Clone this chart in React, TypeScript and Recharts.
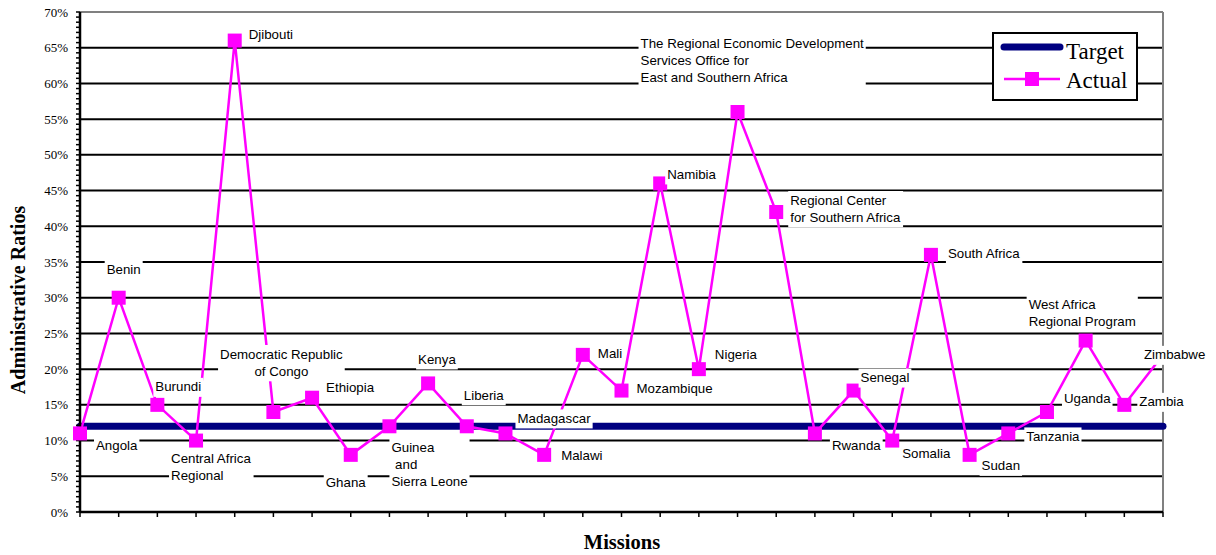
import React from 'react'
import {
  LineChart,
  Line,
  XAxis,
  YAxis,
  CartesianGrid,
  ReferenceLine,
  Legend,
  LabelList,
  Label,
} from 'recharts'

const MISSIONS = [
  'Angola',
  'Benin',
  'Burundi',
  'Central Africa\nRegional',
  'Djibouti',
  'Democratic Republic\nof Congo',
  'Ethiopia',
  'Ghana',
  'Guinea\n and\nSierra Leone',
  'Kenya',
  'Liberia',
  'Madagascar',
  'Malawi',
  'Mali',
  'Mozambique',
  'Namibia',
  'Nigeria',
  'The Regional Economic Development\nServices Office for\nEast and Southern Africa',
  'Regional Center\nfor Southern Africa',
  'Rwanda',
  'Senegal',
  'Somalia',
  'South Africa',
  'Sudan',
  'Tanzania',
  'Uganda',
  'West Africa\nRegional Program',
  'Zambia',
  'Zimbabwe',
]

// administrative ratio per mission, in percent
const ACTUAL = [11, 30, 15, 10, 66, 14, 16, 8, 12, 18, 12, 11, 8, 22, 17, 46, 20, 56, 42, 11, 17, 10, 36, 8, 11, 14, 24, 15, 22]
const TARGET = [12, 12, 12, 12, 12, 12, 12, 12, 12, 12, 12, 12, 12, 12, 12, 12, 12, 12, 12, 12, 12, 12, 12, 12, 12, 12, 12, 12, 12]

const Y_LABEL_TICKS = [0, 5, 10, 15, 20, 25, 30, 35, 40, 45, 50, 55, 60, 65, 70]
const GRID_VALUES = [5, 10, 15, 20, 25, 30, 35, 40, 45, 50, 55, 60, 65]
// minor tick marks on the value axis, 7 per major step
const MINOR_TICKS = Array.from({ length: 99 }, (_, i) => (i * 5) / 7)

// label placement: offset of text left edge / first line centre from the marker
const LABEL_LAYOUT: Array<[number, number, 'start' | 'middle']> = [
  [16, 12, 'start'],
  [-12, -28, 'start'],
  [-2, -18, 'start'],
  [-25, 18, 'start'],
  [14, -6, 'start'],
  [8, -58, 'middle'],
  [14, -10, 'start'],
  [-25, 28, 'start'],
  [2, 21, 'start'],
  [-10, -24, 'start'],
  [-3, -31, 'start'],
  [12, -15, 'start'],
  [17, 1, 'start'],
  [15, -1, 'start'],
  [15, -2, 'start'],
  [7, -9, 'start'],
  [16, -15, 'start'],
  [-97, -69, 'start'],
  [14, -12, 'start'],
  [17, 12, 'start'],
  [7, -13, 'start'],
  [10, 13, 'start'],
  [17, -1, 'start'],
  [12, 11, 'start'],
  [18, 3, 'start'],
  [17, -14, 'start'],
  [-57, -36, 'start'],
  [15, -3, 'start'],
  [-19, 0, 'start'],
]

const MAGENTA = '#FF00FF'
const NAVY = '#000080'
const LABEL_FONT = 13.3
const LINE_GAP = 17.3
const SERIF = '"Liberation Serif", "Times New Roman", serif'
const SANS = '"Liberation Sans", Arial, sans-serif'

const chartData = MISSIONS.map((mission, i) => ({
  mission,
  target: TARGET[i],
  actual: ACTUAL[i],
}))

let measureCtx: CanvasRenderingContext2D | null = null
function textWidth(s: string) {
  if (!measureCtx) measureCtx = document.createElement('canvas').getContext('2d')
  if (!measureCtx) return s.length * 7
  measureCtx.font = `${LABEL_FONT}px "Liberation Sans"`
  return measureCtx.measureText(s).width
}

function MissionLabel(props: any) {
  const name: string = props.value
  const idx = MISSIONS.indexOf(name)
  if (idx < 0) return null
  const px = props.x ?? props.viewBox?.x
  const py = props.y ?? props.viewBox?.y
  const [dx, dy, align] = LABEL_LAYOUT[idx]
  const lines = name.split('\n')
  const widths = lines.map(textWidth)
  const maxW = Math.max(...widths)
  const top = py + dy
  const anchorX = px + dx
  const left = align === 'middle' ? anchorX - maxW / 2 : anchorX
  return (
    <g>
      <rect
        x={left - 2}
        y={top - 9}
        width={maxW + 4}
        height={(lines.length - 1) * LINE_GAP + 19}
        fill="#fff"
      />
      {lines.map((ln, i) => (
        <text
          key={i}
          x={anchorX}
          y={top + i * LINE_GAP}
          textAnchor={align}
          dominantBaseline="central"
          fontFamily={SANS}
          fontSize={LABEL_FONT}
          fill="#000"
          style={{ whiteSpace: 'pre' }}
        >
          {ln}
        </text>
      ))}
    </g>
  )
}

function SquareDot(props: any) {
  const { cx, cy, index } = props
  if (cx == null || cy == null) return <g key={`d-${index}`} />
  return <rect key={`d-${index}`} x={cx - 7} y={cy - 7} width={14} height={14} fill={MAGENTA} />
}

function ValueTick(props: any) {
  const { x, y, payload } = props
  const v = payload.value
  const shown = Y_LABEL_TICKS.find((t) => Math.abs(t - v) < 1e-6)
  if (shown === undefined) return <g />
  return (
    <text x={x} y={y} textAnchor="end" dominantBaseline="central" fontFamily={SERIF} fontSize={13} fill="#000">
      {`${shown}%`}
    </text>
  )
}

function LegendBox() {
  return (
    <svg width={146} height={70}>
      <rect x={1} y={1} width={144} height={67} fill="#fff" stroke="#000" strokeWidth={2} />
      <line x1={12} y1={15} x2={68} y2={15} stroke={NAVY} strokeWidth={7} strokeLinecap="round" />
      <text x={74} y={19} dominantBaseline="central" fontFamily={SERIF} fontSize={23} fill="#000">
        Target
      </text>
      <line x1={12} y1={47} x2={68} y2={47} stroke={MAGENTA} strokeWidth={2.5} />
      <rect x={33} y={40} width={14} height={14} fill={MAGENTA} />
      <text x={74} y={48} dominantBaseline="central" fontFamily={SERIF} fontSize={23} fill="#000">
        Actual
      </text>
    </svg>
  )
}

export default function App() {
  return (
    <div style={{ position: 'absolute', left: 0, top: 0, width: 1216, height: 555, background: '#fff' }}>
      <LineChart width={1216} height={555} data={chartData} margin={{ top: 12, right: 53, bottom: 0, left: 0 }}>
        <CartesianGrid horizontal vertical={false} horizontalValues={GRID_VALUES} stroke="#000" strokeWidth={2} />
        <ReferenceLine y={70} stroke="#808080" strokeWidth={2} />
        <ReferenceLine x="Zimbabwe" stroke="#808080" strokeWidth={2} />
        <XAxis
          dataKey="mission"
          interval={0}
          height={43}
          tickSize={5}
          tick={() => <g />}
          axisLine={{ stroke: '#000', strokeWidth: 2.5 }}
          tickLine={{ stroke: '#000', strokeWidth: 1.5 }}
        >
          <Label
            content={() => (
              <text x={622} y={542} textAnchor="middle" dominantBaseline="central" fontFamily={SERIF} fontWeight="bold" fontSize={20.5} fill="#000">
                Missions
              </text>
            )}
          />
        </XAxis>
        <YAxis
          width={80}
          domain={[0, 70]}
          ticks={MINOR_TICKS}
          interval={0}
          tickSize={4}
          tickMargin={8}
          tick={<ValueTick />}
          axisLine={{ stroke: '#000', strokeWidth: 2.5 }}
          tickLine={{ stroke: '#000', strokeWidth: 1.5 }}
        >
          <Label
            content={() => (
              <text
                x={18}
                y={300}
                transform="rotate(-90 18 300)"
                textAnchor="middle"
                dominantBaseline="central"
                fontFamily={SERIF}
                fontWeight="bold"
                fontSize={20}
                fill="#000"
              >
                Administrative Ratios
              </text>
            )}
          />
        </YAxis>
        <Legend
          layout="vertical"
          align="center"
          verticalAlign="middle"
          content={() => <LegendBox />}
          wrapperStyle={{ left: 992, top: 32, width: 146, height: 70, right: 'auto', bottom: 'auto' }}
        />
        <Line
          dataKey="target"
          name="Target"
          stroke={NAVY}
          strokeWidth={7}
          strokeLinecap="round"
          dot={false}
          activeDot={false}
          isAnimationActive={false}
        />
        <Line
          dataKey="actual"
          name="Actual"
          stroke={MAGENTA}
          strokeWidth={2.5}
          dot={SquareDot}
          activeDot={false}
          isAnimationActive={false}
        >
          <LabelList dataKey="mission" content={MissionLabel} />
        </Line>
      </LineChart>
    </div>
  )
}
